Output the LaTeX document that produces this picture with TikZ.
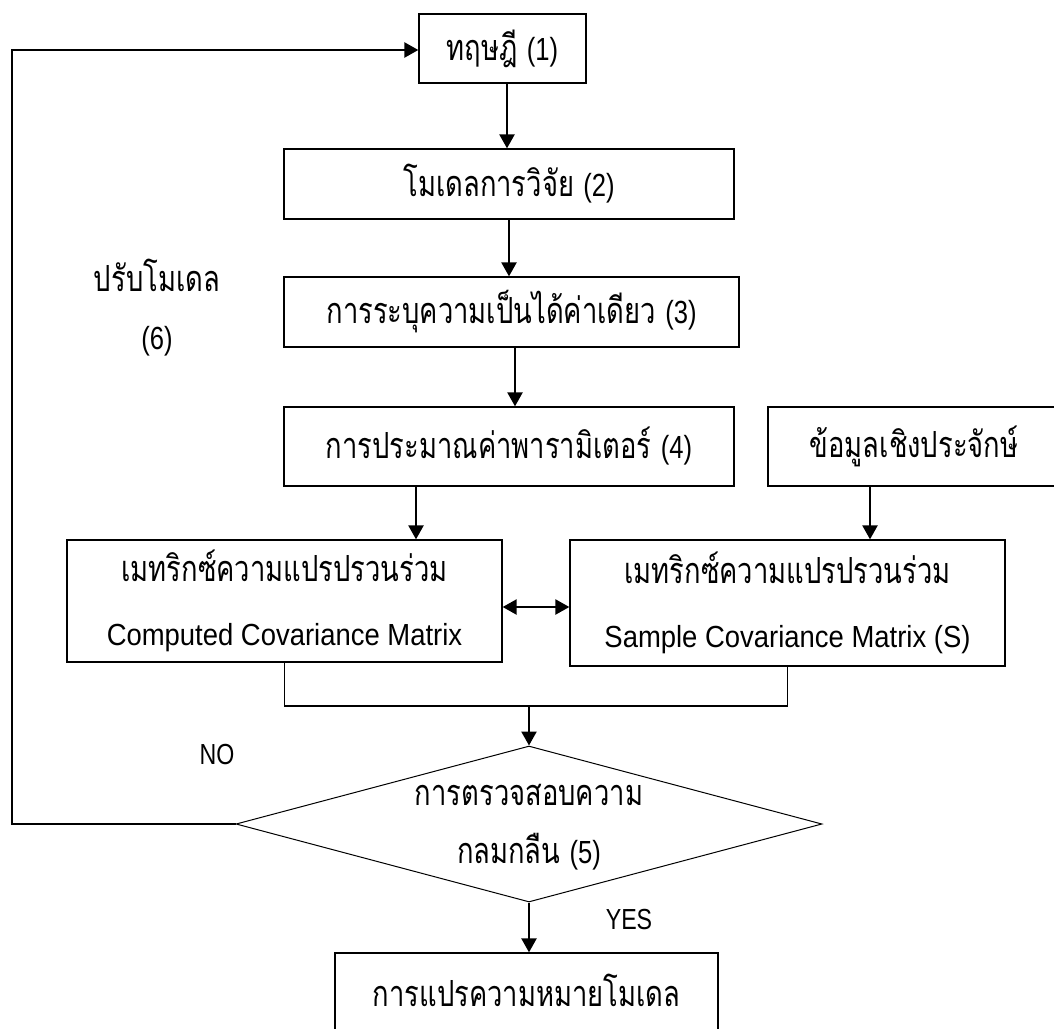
\documentclass[tikz,border=0pt]{standalone}
\usepackage{fontspec}
\newfontfamily\thai[Script=Thai,FakeStretch=0.76]{Loma}
\newfontfamily\nlatin[FakeStretch=0.8]{Liberation Sans}
\newfontfamily\covlatin[FakeStretch=0.9]{Liberation Sans}
\newcommand\pnum[1]{{\nlatin\fontsize{32}{32}\selectfont #1}}
\newcommand\covline[1]{{\covlatin\fontsize{30.5}{30.5}\selectfont #1}}
\usetikzlibrary{arrows.meta,shapes.geometric}

\begin{document}
\begin{tikzpicture}[x=1pt,y=-1pt,
  txt/.style={font=\thai\fontsize{36}{58}\selectfont, align=center, inner sep=0pt},
  stepbox/.style={draw, line width=1.3pt, rectangle, inner sep=0pt, align=center,
    font=\thai\fontsize{36}{64}\selectfont},
  decision/.style={draw, line width=1pt, diamond, inner sep=0pt},
  link/.style={line width=2.4pt},
  arr/.style={link, -{Triangle[length=14pt,width=15pt]}},
  biarr/.style={link, {Triangle[length=14pt,width=15pt]}-{Triangle[length=14pt,width=15pt]}}
]
% canvas
\fill[white] (0,0) rectangle (1054,1028);
\useasboundingbox (0,0) rectangle (1054,1028);

% process boxes
\node[stepbox, minimum width=167pt, minimum height=69pt] (b1) at (502.5,48.5) {ทฤษฎี \pnum{(1)}};
\node[stepbox, minimum width=450pt, minimum height=70pt] (b2) at (509,184) {โมเดลการวิจัย \pnum{(2)}};
\node[stepbox, minimum width=455pt, minimum height=70pt] (b3) at (511.5,312) {การระบุความเป็นได้ค่าเดียว \pnum{(3)}};
\node[stepbox, minimum width=450pt, minimum height=79pt] (b4) at (509,446.5) {การประมาณค่าพารามิเตอร์ \pnum{(4)}};
\node[stepbox, minimum width=292pt, minimum height=79pt] (data) at (914,446.5) {ข้อมูลเชิงประจักษ์};
\node[stepbox, minimum width=435pt, minimum height=122pt] (b5) at (284.5,601)
  {เมทริกซ์ความแปรปรวนร่วม\\\covline{Computed Covariance Matrix}};
\node[stepbox, minimum width=435pt, minimum height=126pt] (b6) at (787.5,603)
  {เมทริกซ์ความแปรปรวนร่วม\\\covline{Sample Covariance Matrix (S)}};

% fit test
\node[decision, minimum width=586pt, minimum height=156pt] (dia) at (529,824) {};
\node[txt] (diatext) at (529,827) {การตรวจสอบความ\\กลมกลืน \pnum{(5)}};

% interpretation
\node[draw, line width=1.3pt, minimum width=383pt, minimum height=100pt, inner sep=0pt] (b7) at (526.5,1003) {};
\node[txt] (b7text) at (526.5,990) {การแปรความหมายโมเดล};

% side labels
\node[txt] (adjust) at (157,308) {ปรับโมเดล\\\pnum{(6)}};
\node[txt, font=\nlatin\fontsize{29}{29}\selectfont] (nolab) at (217,755) {NO};
\node[txt, font=\nlatin\fontsize{29}{29}\selectfont] (yeslab) at (629,920) {YES};

% main flow
\draw[arr] ([xshift=4.5pt]b1.south) -- ([xshift=4.5pt]b1.south |- b2.north);
\draw[arr] (b2.south) -- (b2.south |- b3.north);
\draw[arr] ([xshift=3.5pt]b3.south) -- ([xshift=3.5pt]b3.south |- b4.north);
\draw[arr] ([xshift=-93pt]b4.south) -- ([xshift=-93pt]b4.south |- b5.north);
\draw[arr] ([xshift=-44pt]data.south) -- ([xshift=-44pt]data.south |- b6.north);
\draw[biarr] ([yshift=-6pt]b5.east) -- ([yshift=-6pt]b5.east -| b6.west);

% merge into the fit test
\coordinate (merge) at (529,706);
\draw[line width=1.8pt] (b5.south) |- (merge) -| (b6.south);
\draw[arr] (merge) -- (dia.north);
\draw[arr] (dia.south) -- (dia.south |- b7.north);

% loop back to theory
\coordinate (loopx) at (12,0);
\draw[arr] (dia.west) -- (dia.west -| loopx) |- ([yshift=-1.5pt]b1.west);
\end{tikzpicture}
\end{document}
